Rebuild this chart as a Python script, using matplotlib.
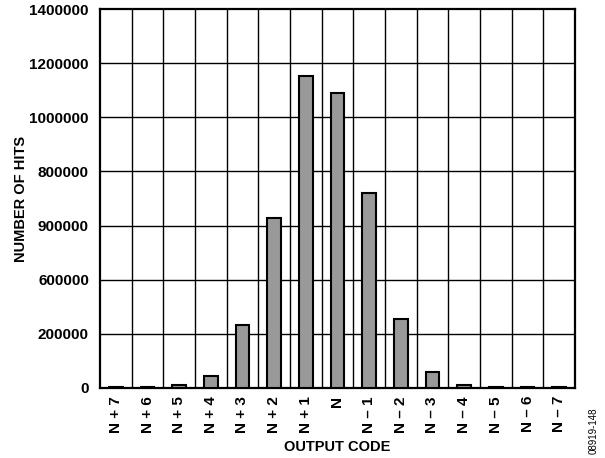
import numpy as np
import matplotlib.pyplot as plt

codes = ["N + 7", "N + 6", "N + 5", "N + 4", "N + 3", "N + 2", "N + 1", "N",
         "N \u2013 1", "N \u2013 2", "N \u2013 3", "N \u2013 4", "N \u2013 5", "N \u2013 6", "N \u2013 7"]
hits = [3000, 3000, 10000, 44000, 232000, 629000, 1154000, 1089000,
        719000, 253000, 59000, 9000, 3000, 3000, 3000]
ytick_vals = [0, 200000, 400000, 600000, 800000, 1000000, 1200000, 1400000]
# labels as printed on the original (not in order)
ytick_text = ["0", "200000", "600000", "900000", "800000", "1000000", "1200000", "1400000"]

plt.rcParams["font.family"] = "Liberation Sans"
plt.rcParams["font.weight"] = "bold"

fig = plt.figure(figsize=(6.05, 4.58), dpi=100)
ax = fig.add_axes([100 / 605, 1 - 387.7 / 458, 475 / 605, 378.4 / 458])

x = np.arange(len(codes))
ax.bar(x, hits, width=0.44, color="#999999", edgecolor="black", linewidth=1.5, zorder=3)

ax.set_xlim(-0.5, len(codes) - 0.5)
ax.set_ylim(0, 1400000)
ax.set_yticks(ytick_vals)
ax.set_yticklabels(ytick_text, fontsize=11, fontweight="bold")
ax.set_xticks(x)
ax.set_xticklabels(codes, rotation=90, fontsize=11, fontweight="bold")
ax.tick_params(axis="x", length=0, pad=6)
ax.tick_params(axis="y", length=0, pad=8)

# vertical grid between categories, horizontal at y ticks
for b in np.arange(0.5, len(codes) - 0.5, 1):
    ax.axvline(b, color="black", linewidth=1, zorder=1)
for v in ytick_vals[1:-1]:
    ax.axhline(v, color="black", linewidth=1, zorder=1)

for s in ax.spines.values():
    s.set_linewidth(1.6)

ax.set_xlabel("OUTPUT CODE", fontsize=10.5, fontweight="bold")
ax.xaxis.set_label_coords(0.5, (387.7 - 447) / 378.4)
ax.xaxis.label.set_va("center")
ax.set_ylabel("NUMBER OF HITS", fontsize=10.5, fontweight="bold")
ax.yaxis.set_label_coords((21 - 100) / 475, 0.5)
ax.yaxis.label.set_va("center")

fig.text(594 / 605, 1 - 431 / 458, "08919-148", rotation=90, fontsize=7, fontweight="normal",
         ha="center", va="center")

fig.savefig("out.png", dpi=100)
